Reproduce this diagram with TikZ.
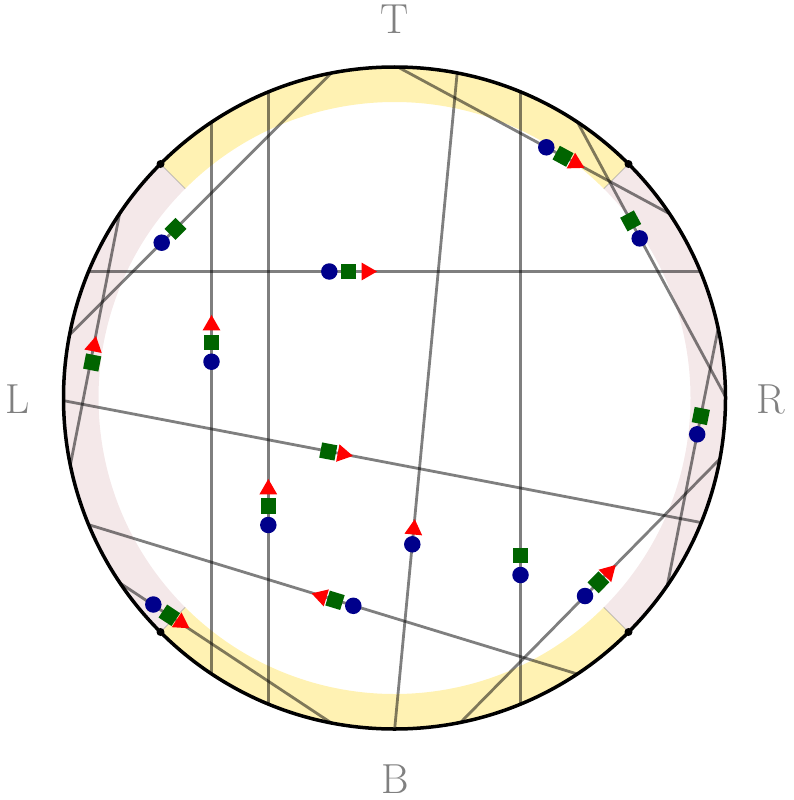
\documentclass[tikz,border=0pt]{standalone}
\usetikzlibrary{shapes.geometric}
\definecolor{bandyellow}{RGB}{255,242,179}
\definecolor{bandpink}{RGB}{244,232,233}
\definecolor{mkblue}{RGB}{0,0,139}
\definecolor{mkgreen}{RGB}{0,100,0}
\definecolor{mkred}{RGB}{255,0,0}
\definecolor{lblgray}{RGB}{128,128,128}
\begin{document}
\begin{tikzpicture}[x=1pt,y=-1pt,
  chord/.style={draw=black,draw opacity=0.5,line width=2.8pt},
  sectorline/.style={draw=black!45,draw opacity=0.5,line width=0.9pt},
  dotm/.style={circle,fill=mkblue,inner sep=0pt,minimum size=16.5pt},
  sqm/.style={rectangle,fill=mkgreen,inner sep=0pt,minimum size=15.5pt},
  trim/.style={regular polygon,regular polygon sides=3,fill=mkred,inner sep=0pt,minimum size=20.5pt},
  lbl/.style={text=lblgray,font=\fontsize{42}{48}\selectfont,inner sep=0pt},
  pole/.style={circle,fill=black,inner sep=0pt,minimum size=8pt}]
\useasboundingbox (0,0) rectangle (793,800);
\coordinate (O) at (394.5,398);
% bands
\begin{scope}[shift={(394.5,398)}]
  \fill[bandyellow] (45:331) arc[start angle=45,end angle=135,radius=331] -- (135:296) arc[start angle=135,end angle=45,radius=296] -- cycle;
  \fill[bandyellow] (225:331) arc[start angle=225,end angle=315,radius=331] -- (315:296) arc[start angle=315,end angle=225,radius=296] -- cycle;
  \fill[bandpink] (135:331) arc[start angle=135,end angle=225,radius=331] -- (225:296) arc[start angle=225,end angle=135,radius=296] -- cycle;
  \fill[bandpink] (-45:331) arc[start angle=-45,end angle=45,radius=331] -- (45:296) arc[start angle=45,end angle=-45,radius=296] -- cycle;
  \foreach \a in {45,135,225,315} \draw[sectorline] (\a:296) -- (\a:331);
\end{scope}
% chords
\begin{scope}
  \clip (O) circle[radius=331];
  \draw[chord] (0,271.5) -- (793,271.5);
  \draw[chord] (211.5,0) -- (211.5,800);
  \draw[chord] (268.3,0) -- (268.3,800);
  \draw[chord] (520.5,0) -- (520.5,800);
  \draw[chord] (464.1,0) -- (387.9,800);
  \draw[chord] (0,388.5) -- (793,540.1);
  \draw[chord] (0,497.6) -- (793,739.9);
  \draw[chord] (0,503.6) -- (400,768.4);
  \draw[chord] (0,404.4) -- (404.4,0);
  \draw[chord] (132.1,150) -- (53.7,550);
  \draw[chord] (350,41.2) -- (750,257.2);
  \draw[chord] (550,71.2) -- (750,442.2);
  \draw[chord] (723.8,300) -- (654.5,650);
  \draw[chord] (430,753.5) -- (760,418.2);
\end{scope}
% outline
\draw[line width=3.5pt] (O) circle[radius=331];
\node[pole] (p1) at (628.5,164) {};
\node[pole] (p2) at (160.5,164) {};
\node[pole] (p3) at (160.5,632) {};
\node[pole] (p4) at (628.5,632) {};
% markers
% line 1
\node[dotm] (c1) at (329.3,271.5) {};
\node[sqm] (s1) at (348.3,271.5) {};
\node[trim,rotate=-90] (t1) at (366.8,271.5) {};
% line 2
\node[dotm] (c2) at (211.5,361.7) {};
\node[sqm] (s2) at (211.5,342.6) {};
\node[trim] (t2) at (211.5,325.2) {};
% line 3
\node[dotm] (c3) at (268.3,525) {};
\node[sqm] (s3) at (268.3,506) {};
\node[trim] (t3) at (268.3,489.2) {};
% line 4
\node[dotm] (c4) at (520.5,575) {};
\node[sqm] (s4) at (520.5,555.7) {};
% line 5
\node[dotm] (c5) at (412.3,544.3) {};
\node[trim,rotate=-5.4] (t5) at (413.8,529.4) {};
% line 6
\node[sqm,rotate=-10.8] (s6) at (328.3,451.5) {};
\node[trim,rotate=-100.8] (t6) at (342.8,454) {};
% line 7
\node[dotm] (c7) at (353.3,605.8) {};
\node[sqm,rotate=-17] (s7) at (335,600.3) {};
\node[trim,rotate=73] (t7) at (321.4,596.4) {};
% line 8
\node[dotm] (c8) at (153.3,604.5) {};
\node[sqm,rotate=-33.5] (s8) at (169.3,615.3) {};
\node[trim,rotate=-123.5] (t8) at (180.9,622.6) {};
% line 9
\node[dotm] (c9) at (161.7,242.7) {};
\node[sqm,rotate=45] (s9) at (175.5,228.9) {};
% line 10
\node[sqm,rotate=-11.1] (s10) at (92.2,362.5) {};
\node[trim,rotate=-11.1] (t10) at (94,346.2) {};
% line 11
\node[dotm] (c11) at (546.3,147.3) {};
\node[sqm,rotate=-28.4] (s11) at (563,156.3) {};
\node[trim,rotate=-118.4] (t11) at (575.4,163) {};
% line 12
\node[sqm,rotate=-61.7] (s12) at (630.7,220.9) {};
\node[dotm] (c12) at (639.7,238.4) {};
% line 13
\node[sqm,rotate=-11.2] (s13) at (700.8,416) {};
\node[dotm] (c13) at (697.2,434.3) {};
% line 14
\node[dotm] (c14) at (585,596) {};
\node[sqm,rotate=-44.5] (s14) at (598.5,582.3) {};
\node[trim,rotate=-44.5] (t14) at (608.5,572.3) {};
% labels
\node[lbl] (T) at (394.5,19.5) {T};
\node[lbl] (B) at (395.5,779) {B};
\node[lbl] (L) at (18,399) {L};
\node[lbl] (R) at (771,399) {R};
\end{tikzpicture}
\end{document}
